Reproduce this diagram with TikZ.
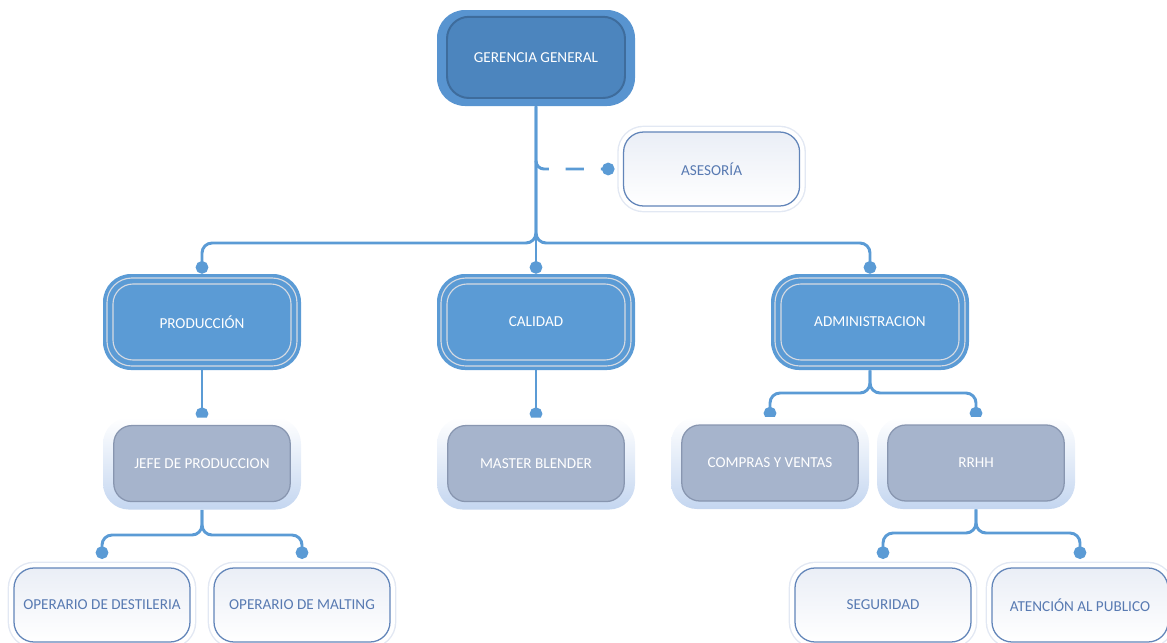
\documentclass[tikz,border=0pt]{standalone}
\usepackage{fontspec}
\setmainfont{Carlito}
\usepackage{tikz}
\usetikzlibrary{arrows.meta, positioning, backgrounds}
\definecolor{ringBlue}{RGB}{88,148,208}
\definecolor{headBlue}{RGB}{76,133,190}
\definecolor{headLine}{RGB}{62,108,156}
\definecolor{unitBlue}{RGB}{91,155,213}
\definecolor{unitLine}{RGB}{214,218,226}
\definecolor{subGray}{RGB}{166,180,204}
\definecolor{subLine}{RGB}{136,150,176}
\definecolor{glowBlue}{RGB}{196,214,240}
\definecolor{leafLine}{RGB}{98,133,185}
\definecolor{leafText}{RGB}{88,122,178}
\definecolor{leafHalo}{RGB}{226,232,243}
\definecolor{leafTint}{RGB}{234,238,246}
\definecolor{linkBlue}{RGB}{91,155,213}
\newcommand{\boxfont}{\fontsize{10.8}{13}\selectfont}

\begin{document}
\begin{tikzpicture}[node distance=1.175cm,
headbox/.style={rectangle, rounded corners=0.7cm, minimum width=4.95cm,
  minimum height=2.4cm, fill=ringBlue, text=white, font=\boxfont,
  path picture={\draw[draw=headLine, line width=1.4pt, fill=headBlue, rounded corners=0.55cm]
    ([shift={(0.25cm,-0.17cm)}]path picture bounding box.north west) rectangle
    ([shift={(-0.25cm,0.2cm)}]path picture bounding box.south east);}},
unitbox/.style={rectangle, rounded corners=0.7cm, minimum width=4.95cm,
  minimum height=2.4cm, fill=unitBlue, text=white, font=\boxfont,
  path picture={\draw[draw=unitLine, line width=0.8pt, rounded corners=0.62cm]
    ([shift={(0.1cm,-0.1cm)}]path picture bounding box.north west) rectangle
    ([shift={(-0.1cm,0.1cm)}]path picture bounding box.south east);
    \draw[draw=unitLine, line width=0.8pt, rounded corners=0.5cm]
    ([shift={(0.25cm,-0.25cm)}]path picture bounding box.north west) rectangle
    ([shift={(-0.25cm,0.25cm)}]path picture bounding box.south east);}},
subbox/.style={rectangle, rounded corners=0.65cm, minimum width=4.95cm,
  minimum height=2.3cm, top color=white, middle color=white, bottom color=glowBlue,
  text=white, font=\boxfont,
  path picture={\draw[draw=subLine, line width=0.9pt, fill=subGray, rounded corners=0.45cm]
    ([shift={(0.27cm,-0.2cm)}]path picture bounding box.north west) rectangle
    ([shift={(-0.27cm,0.2cm)}]path picture bounding box.south east);}},
leafbox/.style={rectangle, rounded corners=0.5cm, minimum width=4.4cm,
  minimum height=1.85cm, draw=leafLine, line width=0.9pt,
  top color=leafTint, bottom color=white, text=leafText, font=\boxfont,
  preaction={draw=leafHalo, line width=9pt},
  preaction={draw=white, line width=7pt}},
link/.style={-{Circle[length=9pt]}, line width=2.1pt, draw=linkBlue, rounded corners=0.25cm},
dashlink/.style={-{Circle[length=9pt]}, line width=2.1pt, draw=linkBlue,
  dash pattern=on 13pt off 12pt, rounded corners=0.2cm}]

\useasboundingbox (0,0) rectangle (29.175,-16.075);

% top
\node[headbox] (gerencia) at (13.4,-1.45) {GERENCIA GENERAL};
\node[leafbox] (asesoria) at (17.79,-4.225) {ASESORÍA};

% areas
\node[unitbox] (produccion) at (5.05,-8.05) {PRODUCCIÓN};
\node[unitbox] (calidad) at (13.4,-8.05) {CALIDAD};
\node[unitbox] (administracion) at (21.75,-8.05) {ADMINISTRACION};

% jefaturas
\node[subbox, below=of produccion] (jefe) {JEFE DE PRODUCCION};
\node[subbox, below=of calidad] (master) {MASTER BLENDER};
\node[subbox] (compras) at (19.25,-11.575) {COMPRAS Y VENTAS};
\node[subbox] (rrhh) at (24.4,-11.575) {RRHH};

% operarios
\node[leafbox] (destileria) at (2.55,-15.125) {OPERARIO DE DESTILERIA};
\node[leafbox] (malting) at (7.55,-15.125) {OPERARIO DE MALTING};
\node[leafbox] (seguridad) at (22.075,-15.125) {SEGURIDAD};
\node[leafbox] (atencion) at (27.0,-15.125) {ATENCIÓN AL PUBLICO};

\coordinate (barmain) at (13.4,-6.075);
\coordinate (hubside) at (13.4,-4.05);
\coordinate (baradm) at (21.75,-9.825);
\coordinate (barjefe) at (5.075,-13.375);
\coordinate (barrrhh) at (24.4,-13.325);

\begin{scope}[on background layer]
\draw[link] (gerencia.south) -- (calidad.north);
\draw[link] (gerencia.south) |- (produccion |- barmain) -- (produccion.north);
\draw[link] (gerencia.south) |- (administracion |- barmain) -- (administracion.north);
\draw[dashlink, shorten >=6pt] (hubside) |- (asesoria.west);
\draw[link, shorten >=-2pt] (produccion) -- (jefe);
\draw[link, shorten >=-2pt] (calidad) -- (master);
\draw[link, shorten >=-2pt] (administracion.south) |- (compras |- baradm) -- (compras.north);
\draw[link, shorten >=-2pt] (administracion.south) |- (rrhh |- baradm) -- (rrhh.north);
\draw[link, shorten >=6pt] (jefe.south) |- (destileria |- barjefe) -- (destileria.north);
\draw[link, shorten >=6pt] (jefe.south) |- (malting |- barjefe) -- (malting.north);
\draw[link, shorten >=6pt] (rrhh.south) |- (seguridad |- barrrhh) -- (seguridad.north);
\draw[link, shorten >=6pt] (rrhh.south) |- (atencion |- barrrhh) -- (atencion.north);
\end{scope}
\end{tikzpicture}
\end{document}
